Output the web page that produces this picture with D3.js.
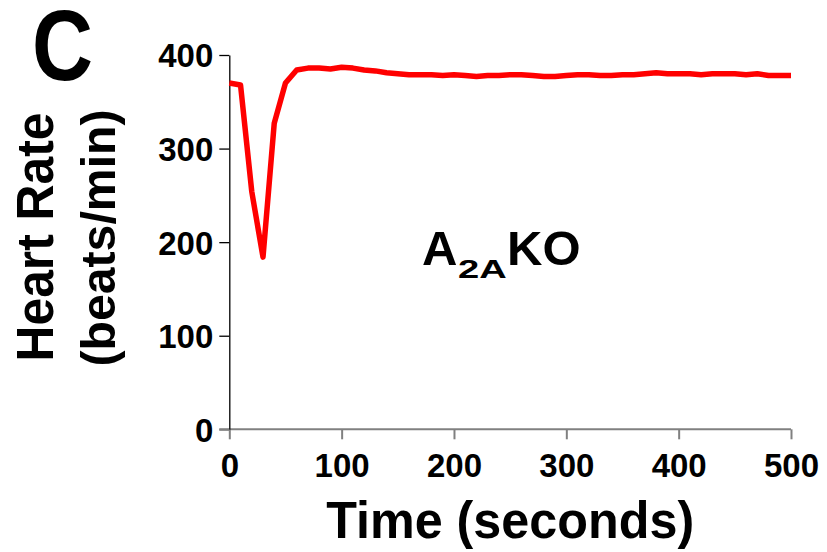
<!DOCTYPE html>
<html>
<head>
<meta charset="utf-8">
<script src="https://cdn.jsdelivr.net/npm/d3@7"></script>
<style>
  html, body { margin: 0; padding: 0; background: #fff; }
  svg text { font-family: "Liberation Sans", Arial, sans-serif; font-weight: bold; fill: #000; }
</style>
</head>
<body>
<div id="chart"></div>
<script>
// Heart rate of A2AKO mice, sampled every 10 s
var times = [0,10,20,30,40,50,60,70,80,90,100,110,120,130,140,150,160,170,180,190,200,
  210,220,230,240,250,260,270,280,290,300,310,320,330,340,350,360,370,380,390,400,
  410,420,430,440,450,460,470,480,490,500];
var heartRate = [370,368,254,184,327,370,384,386,386,385,387,386,384,383,381,380,379,379,379,378,379,
  378,377,378,378,379,379,378,377,377,378,379,379,378,378,379,379,380,381,380,380,
  380,379,380,380,380,379,380,378,378,378];
var xTicks = [0,100,200,300,400,500];
var yTicks = [0,100,200,300,400];

var fullW = 827, fullH = 552;
var margin = {top: 55, left: 229.3, right: 827 - 791, bottom: 552 - 429.3};
var w = fullW - margin.left - margin.right;
var h = fullH - margin.top - margin.bottom;

var svg = d3.select('#chart').append('svg')
  .attr('width', fullW).attr('height', fullH);
var g = svg.append('g')
  .attr('transform', 'translate(' + margin.left + ',' + margin.top + ')');

var x = d3.scaleLinear().domain([0, 500]).range([0, w]);
var y = d3.scaleLinear().domain([0, 400]).range([h, 0]);

// x axis (grey)
var xAxis = g.append('g').attr('transform', 'translate(0,' + h + ')')
  .call(d3.axisBottom(x).tickValues(xTicks).tickSize(10).tickPadding(14).tickSizeOuter(0));
xAxis.select('.domain').attr('stroke', '#808080').attr('stroke-width', 2)
  .attr('d', 'M-10,0H' + w);
xAxis.selectAll('.tick line').attr('stroke', '#808080').attr('stroke-width', 2);
xAxis.selectAll('.tick text').style('font-size', '33px').attr('dy', '0.71em');

// y axis (black)
var yAxis = g.append('g')
  .call(d3.axisLeft(y).tickValues(yTicks).tickSize(10).tickPadding(6).tickSizeOuter(0));
yAxis.select('.domain').attr('stroke', '#000').attr('stroke-width', 1.3);
yAxis.selectAll('.tick line').attr('stroke', '#000').attr('stroke-width', 1.3);
yAxis.selectAll('.tick').filter(function(d) { return d === 0; }).select('line')
  .attr('stroke', '#808080').attr('stroke-width', 2);
yAxis.selectAll('.tick text').style('font-size', '33px').attr('dy', '0.36em');

// data line
var line = d3.line()
  .x(function(d, i) { return x(times[i]); })
  .y(function(d) { return y(d); });
g.append('path').datum(heartRate)
  .attr('fill', 'none').attr('stroke', '#ff0000').attr('stroke-width', 5.5)
  .attr('stroke-linejoin', 'round').attr('d', line);

// labels
svg.append('text').attr('x', 32).attr('y', 80)
  .attr('textLength', 61).attr('lengthAdjust', 'spacingAndGlyphs')
  .style('font-size', '100px').text('C');

svg.append('text').attr('x', margin.left + w / 2).attr('y', 538)
  .attr('text-anchor', 'middle').attr('textLength', 368).attr('lengthAdjust', 'spacingAndGlyphs')
  .style('font-size', '52px').text('Time (seconds)');

svg.append('text').attr('transform', 'translate(53,237) rotate(-90)')
  .attr('text-anchor', 'middle').attr('textLength', 249).attr('lengthAdjust', 'spacingAndGlyphs')
  .style('font-size', '51px').text('Heart Rate');
svg.append('text').attr('transform', 'translate(115,238) rotate(-90)')
  .attr('text-anchor', 'middle').attr('textLength', 257).attr('lengthAdjust', 'spacingAndGlyphs')
  .style('font-size', '49px').text('(beats/min)');

// in-plot annotation A2AKO
svg.append('text').attr('x', 422).attr('y', 265).style('font-size', '49px').text('A');
svg.append('text').attr('transform', 'translate(458,278.3) scale(1,0.7)')
  .attr('textLength', 48.7).attr('lengthAdjust', 'spacingAndGlyphs')
  .style('font-size', '37px').text('2A');
svg.append('text').attr('x', 507).attr('y', 265).style('font-size', '49px').text('KO');
</script>
</body>
</html>
